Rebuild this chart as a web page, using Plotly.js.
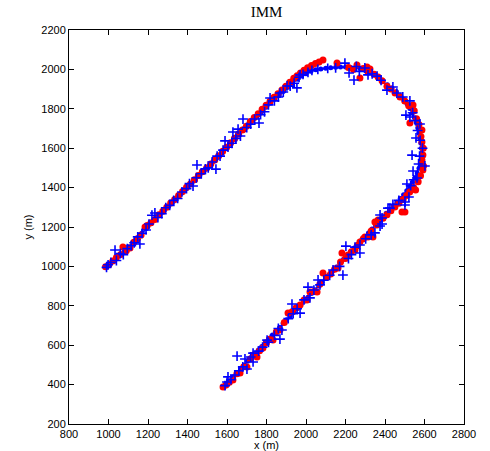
<!DOCTYPE html>
<html>
<head>
<meta charset="utf-8">
<script src="https://cdn.plot.ly/plotly-3.0.1.min.js"></script>
<style>html,body{margin:0;padding:0;background:#fff;}#chart{width:490px;height:451px;}</style>
</head>
<body>
<div id="chart"></div>
<script>
// Estimated track (blue dots joined)
const estX = [990,1012,1035,1058,1080,1103,1126,1148,1170,1192,1215,1238,1260,1283,1305,1328,1350,1372,1395,1418,1440,1462,1485,1508,1530,1553,1575,1598,1620,1642,1664,1686,1708,1730,1752,1775,1798,1820,1842,1865,1888,1910,1932,1955,1978,2000,2025,2050,2075,2100,2125,2150,2175,2200,2225,2250,2275,2300,2322,2345,2368,2390,2412,2435,2458,2478,2496,2512,2526,2538,2549,2558,2566,2572,2577,2581,2584,2586,2585,2580,2572,2563,2552,2539,2525,2510,2494,2477,2460,2442,2424,2406,2388,2370,2352,2334,2316,2298,2280,2262,2244,2226,2208,2190,2172,2154,2136,2118,2100,2082,2064,2046,2028,2010,1992,1974,1956,1938,1920,1902,1884,1866,1848,1830,1812,1794,1776,1758,1740,1722,1704,1686,1668,1650,1632,1614,1598,1584];
const estY = [1000,1018,1036,1056,1076,1100,1124,1146,1170,1192,1216,1240,1262,1287,1308,1330,1352,1372,1394,1416,1438,1462,1486,1510,1532,1553,1575,1598,1620,1644,1668,1692,1716,1740,1762,1785,1808,1830,1850,1870,1890,1910,1930,1950,1966,1978,1990,1998,2002,2006,2009,2011,2012,2012,2010,2008,2004,1996,1986,1972,1956,1938,1922,1905,1886,1866,1846,1824,1802,1778,1754,1730,1704,1678,1652,1626,1600,1574,1548,1522,1498,1474,1450,1427,1405,1384,1364,1345,1326,1308,1290,1270,1250,1230,1210,1190,1170,1151,1132,1113,1094,1074,1055,1036,1016,997,978,958,939,920,901,882,863,844,825,806,786,767,748,729,710,690,671,652,633,614,594,575,556,537,518,498,479,460,440,420,402,388];

// True track (red dots)
const trueX = [985,1002,1022,1040,1062,1073,1090,1109,1128,1146,1165,1185,1196,1215,1235,1255,1275,1295,1315,1335,1355,1375,1395,1415,1435,1455,1475,1497,1518,1538,1558,1578,1598,1618,1638,1658,1678,1698,1718,1738,1758,1778,1798,1818,1838,1858,1878,1898,1918,1938,1955,1972,1990,2008,2028,2048,2066,2086,2157,2215,2240,2258,2273,2290,2309,2314,2324,2345,2365,2385,2410,2430,2451,2476,2500,2520,2542,2548,2526,2560,2572,2587,2582,2587,2594,2592,2587,2595,2592,2580,2568,2555,2545,2525,2510,2492,2501,2486,2470,2450,2430,2410,2390,2365,2359,2349,2339,2330,2314,2298,2290,2273,2260,2248,2230,2213,2200,2182,2175,2162,2145,2125,2105,2086,2070,2056,2040,2020,2005,1990,1970,1950,1930,1909,1890,1868,1850,1833,1815,1800,1782,1765,1752,1735,1718,1701,1685,1666,1650,1630,1612,1595,1580];
const trueY = [998,1008,1028,1045,1060,1098,1080,1093,1122,1140,1160,1200,1208,1222,1238,1262,1280,1300,1322,1340,1360,1380,1402,1418,1440,1462,1480,1500,1520,1540,1562,1585,1605,1628,1650,1672,1692,1712,1735,1756,1775,1798,1818,1838,1858,1876,1895,1915,1935,1955,1968,1982,1996,2008,2020,2030,2038,2048,2032,2010,2000,2022,1956,2005,2012,1987,2002,1975,1961,1942,1915,1900,1880,1860,1840,1815,1819,1790,1728,1750,1720,1692,1660,1631,1600,1565,1540,1510,1489,1460,1430,1388,1400,1378,1360,1340,1276,1276,1320,1302,1282,1262,1245,1235,1210,1225,1149,1180,1149,1149,1140,1124,1105,1083,1075,1058,1040,1068,1022,992,985,962,945,966,910,870,872,870,829,830,804,790,770,763,715,677,668,626,630,612,586,572,540,550,530,489,490,459,455,423,412,398,388];

// Measurements (blue plus)
const measX = [990,998,1012,1033,1040,1060,1075,1095,1115,1130,1159,1148,1170,1190,1205,1220,1235,1250,1270,1290,1310,1330,1350,1372,1395,1410,1428,1445,1448,1470,1490,1505,1525,1544,1550,1565,1580,1590,1605,1630,1625,1645,1656,1668,1681,1700,1720,1740,1762,1770,1790,1810,1818,1840,1860,1868,1885,1904,1920,1940,1954,1965,1970,1985,2010,2030,2060,2110,2150,2197,2218,2243,2255,2270,2298,2314,2335,2360,2380,2410,2440,2460,2490,2526,2506,2526,2540,2555,2577,2565,2557,2578,2590,2537,2575,2602,2570,2542,2562,2545,2511,2530,2521,2501,2501,2470,2425,2415,2440,2375,2385,2385,2375,2349,2330,2273,2302,2248,2202,2273,2230,2215,2187,2170,2137,2120,2090,2061,2071,2040,2010,2020,1990,1929,1970,1955,1935,1910,1878,1868,1860,1840,1803,1810,1780,1760,1732,1732,1720,1691,1701,1680,1651,1660,1640,1620,1605,1600,1590];
const measY = [995,1008,1020,1083,1030,1065,1060,1090,1105,1120,1114,1150,1168,1185,1215,1260,1271,1248,1268,1298,1310,1335,1345,1378,1395,1420,1408,1450,1515,1470,1495,1500,1530,1494,1560,1560,1590,1637,1605,1682,1625,1650,1697,1662,1748,1705,1722,1748,1728,1770,1785,1820,1855,1840,1860,1880,1885,1916,1915,1930,1906,1960,1972,1975,1985,1995,2000,2005,2008,2032,1982,1946,2015,1990,2007,1972,1978,1966,1945,1895,1911,1880,1860,1840,1768,1758,1780,1740,1723,1690,1652,1640,1600,1565,1560,1510,1520,1484,1449,1440,1418,1410,1352,1312,1327,1335,1296,1296,1315,1261,1246,1215,1205,1170,1160,1109,1140,1098,1103,1068,1060,1040,956,1000,982,955,930,931,906,880,895,840,830,809,763,785,760,735,677,631,685,650,626,615,590,570,560,515,540,530,479,490,545,470,449,425,439,413,395];

const xTicks = [800,1000,1200,1400,1600,1800,2000,2200,2400,2600,2800];
const yTicks = [200,400,600,800,1000,1200,1400,1600,1800,2000,2200];

const traces = [
  {x: estX, y: estY, mode: 'lines+markers', type: 'scatter',
   line: {color: '#0000ff', width: 1.5},
   marker: {color: '#0000ff', size: 5}},
  {x: trueX, y: trueY, mode: 'markers', type: 'scatter',
   marker: {color: '#ff0000', size: 7}},
  {x: measX, y: measY, mode: 'markers', type: 'scatter',
   marker: {color: '#0000ff', size: 7, symbol: 'cross-thin-open', line: {color: '#0000ff', width: 1.6}}}
];

const axisCommon = {
  showgrid: false, zeroline: false, showline: true, linecolor: '#000', linewidth: 1,
  mirror: 'ticks', ticks: 'inside', ticklen: 5, tickcolor: '#000', tickwidth: 1,
  tickfont: {family: 'Liberation Sans, Arial, sans-serif', size: 11, color: '#000'}
};

const layout = {
  width: 490, height: 451,
  margin: {l: 69, r: 26, t: 30, b: 27},
  paper_bgcolor: '#fff', plot_bgcolor: '#fff',
  showlegend: false,
  title: {text: 'IMM', font: {family: 'Liberation Serif, Times New Roman, serif', size: 15, color: '#000'},
          xref: 'paper', x: 0.5, yref: 'container', y: 0.973, yanchor: 'middle'},
  xaxis: Object.assign({}, axisCommon, {
    range: [800, 2800], tickvals: xTicks, ticktext: xTicks.map(String),
    title: {text: 'x (m)', font: {family: 'Liberation Sans, Arial, sans-serif', size: 11, color: '#000'}, standoff: 2}
  }),
  yaxis: Object.assign({}, axisCommon, {
    range: [200, 2200], tickvals: yTicks, ticktext: yTicks.map(String),
    title: {text: 'y (m)', font: {family: 'Liberation Sans, Arial, sans-serif', size: 11, color: '#000'}, standoff: 6}
  })
};

Plotly.newPlot('chart', traces, layout, {displayModeBar: false, staticPlot: true});
</script>
</body>
</html>
